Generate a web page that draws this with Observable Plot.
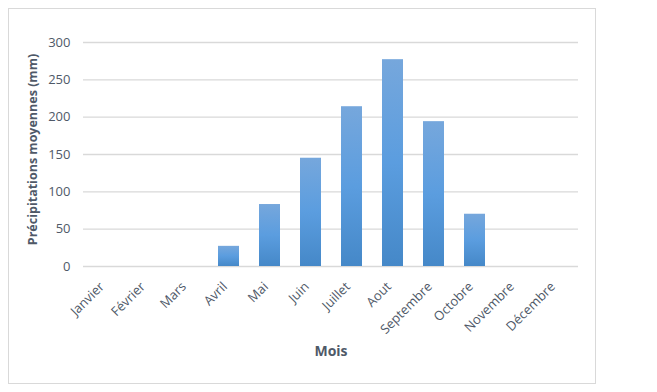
<!DOCTYPE html>
<html>
<head>
<meta charset="utf-8">
<script src="https://cdn.jsdelivr.net/npm/d3@7"></script>
<script src="https://cdn.jsdelivr.net/npm/@observablehq/plot@0.6"></script>
<style>
  html, body { margin: 0; padding: 0; background: #fff; }
  #wrap { position: relative; width: 657px; height: 392px; }
  #frame { position: absolute; left: 8px; top: 8px; width: 588px; height: 376px; border: 1px solid #d9d9d9; box-sizing: border-box; }
  #chart { position: absolute; left: 0; top: 0; }
</style>
</head>
<body>
<div id="wrap"><div id="frame"></div><div id="chart"></div></div>
<script>
const months = ["Janvier","Février","Mars","Avril","Mai","Juin","Juillet","Aout","Septembre","Octobre","Novembre","Décembre"];
const precip = [0, 0, 0, 27, 83, 145, 214, 277, 194, 70, 0, 0];
const yTicks = [0, 50, 100, 150, 200, 250, 300];

const data = months.map((m, i) => ({mois: m, valeur: precip[i]}));
const txt = "#4f5968";

const svg = Plot.plot({
  width: 657,
  height: 392,
  marginLeft: 83,
  marginRight: 79,
  marginTop: 42,
  marginBottom: 126,
  style: {fontFamily: "'Open Sans', sans-serif", background: "transparent", color: txt},
  x: {domain: months, paddingInner: 0.49, paddingOuter: 0.245, label: null},
  y: {domain: [0, 300], label: null},
  marks: [
    Plot.gridY(yTicks, {stroke: "#d9d9d9", strokeOpacity: 1, strokeWidth: 1.3}),
    Plot.barY(data.filter(d => d.valeur > 0), {x: "mois", y: "valeur", fill: "url(#barGrad)"}),
    Plot.axisY(yTicks, {tickSize: 0, tickPadding: 13, fontSize: 13, fill: txt, label: null}),
    Plot.axisX({tickSize: 0, tickPadding: 18, tickRotate: -45, dx: -4, fontSize: 13, fill: txt, label: null}),
    Plot.text(["Précipitations moyennes (mm)"], {frameAnchor: "left", textAnchor: "middle", dx: -51, dy: -5, rotate: -90, fontSize: 12.5, fontWeight: "bold", fill: txt}),
    Plot.text(["Mois"], {frameAnchor: "bottom", dy: 89, fontSize: 14, fontWeight: "bold", fill: txt})
  ]
});

const defs = d3.select(svg).insert("defs", ":first-child");
const g = defs.append("linearGradient").attr("id", "barGrad").attr("x1", 0).attr("y1", 0).attr("x2", 0).attr("y2", 1);
g.append("stop").attr("offset", "0%").attr("stop-color", "#76a7dc");
g.append("stop").attr("offset", "50%").attr("stop-color", "#5b9ddf");
g.append("stop").attr("offset", "100%").attr("stop-color", "#4588c8");

document.getElementById("chart").appendChild(svg);
</script>
</body>
</html>
